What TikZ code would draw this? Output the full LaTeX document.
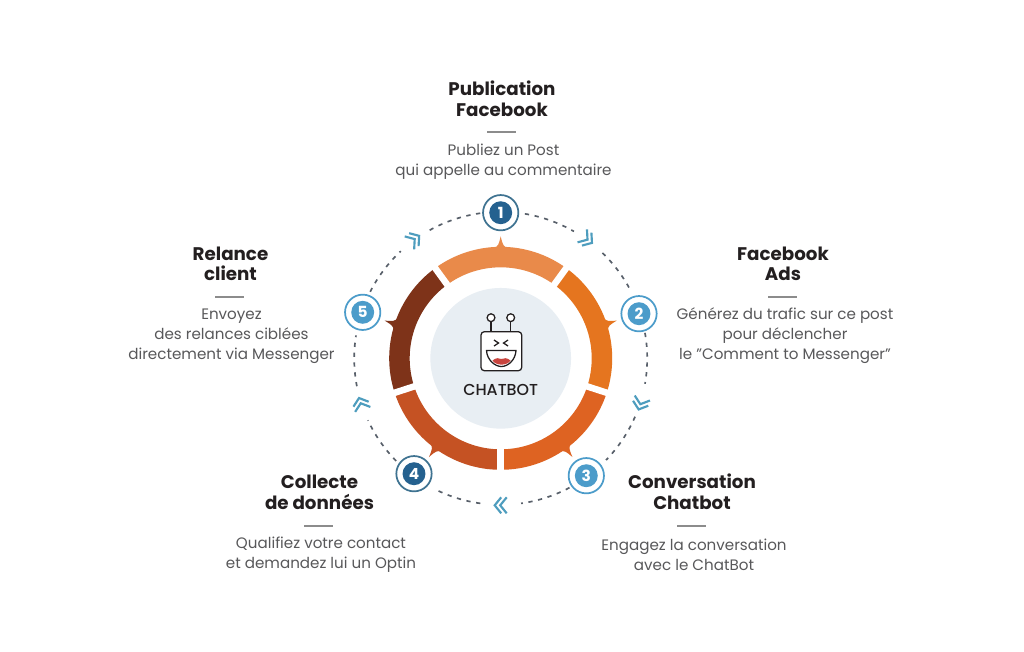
\documentclass[tikz,border=0pt]{standalone}
\usepackage{fontspec}
\setmainfont{Poppins}
\newfontfamily\midfont{Poppins Medium}
\usetikzlibrary{calc}
\definecolor{segA}{HTML}{E98A4A}
\definecolor{segB}{HTML}{E5751F}
\definecolor{segC}{HTML}{DE6322}
\definecolor{segD}{HTML}{C55223}
\definecolor{segE}{HTML}{7E3319}
\definecolor{bluedark}{HTML}{25618F}
\definecolor{bluelight}{HTML}{4C9CCA}
\definecolor{ringdark}{HTML}{3F7391}
\definecolor{chev}{HTML}{4E9DBE}
\definecolor{discbg}{HTML}{E8EEF3}
\definecolor{inktitle}{HTML}{231F20}
\definecolor{inkbody}{HTML}{58585A}
\definecolor{rulegray}{HTML}{8C8C8C}
\definecolor{dashgray}{HTML}{58606A}
\definecolor{lip}{HTML}{C9453F}
\tikzset{
  x=0.75pt,y=-0.75pt,
  titletext/.style={font=\fontsize{13.7}{15.4}\selectfont\bfseries,text=inktitle,align=center,inner sep=0},
  bodytext/.style={font=\fontsize{11.35}{15}\selectfont,text=inkbody,align=center,inner sep=0},
  rulebar/.style={draw=rulegray,line width=2.1pt},
  dasharc/.style={draw=dashgray,line width=1.25pt,dash pattern=on 3.2pt off 4.2pt},
  badgering/.style={circle,draw=#1,fill=white,line width=1.3pt,minimum size=26.5pt,inner sep=0},
  badgedot/.style={circle,fill=#1,minimum size=17.2pt,inner sep=0,text=white,font=\fontsize{11.5}{11.5}\selectfont\bfseries},
  chevline/.style={draw=chev,line width=1.6pt,line cap=butt,line join=miter},
  iconline/.style={draw=inktitle,line width=0.95pt},
}
\newcommand{\segm}[3]{% start end colour
  \fill[#3] ({500.7+111.5*sin(#1)},{358.3-111.5*cos(#1)})
    arc[start angle={90-#1},end angle={90-#2},x radius=111.5,y radius=-111.5]
    -- ({500.7+91*sin(#2)},{358.3-91*cos(#2)})
    arc[start angle={90-#2},end angle={90-#1},x radius=91,y radius=-91] -- cycle;
  \fill[#3] ({500.7+110*sin((#1+#2)/2-3.6)},{358.3-110*cos((#1+#2)/2-3.6)})
    .. controls ({500.7+113*sin((#1+#2)/2-1.1)},{358.3-113*cos((#1+#2)/2-1.1)}) .. ({500.7+122*sin((#1+#2)/2)},{358.3-122*cos((#1+#2)/2)})
    .. controls ({500.7+113*sin((#1+#2)/2+1.1)},{358.3-113*cos((#1+#2)/2+1.1)}) .. ({500.7+110*sin((#1+#2)/2+3.6)},{358.3-110*cos((#1+#2)/2+3.6)}) -- cycle;
}
\newcommand{\gapline}[1]{%
  \draw[white,line width=4.9pt] ({500.7+86*sin(#1)},{358.3-86*cos(#1)}) -- ({500.7+116*sin(#1)},{358.3-116*cos(#1)});
}
\newcommand{\dsh}[2]{%
  \draw[dasharc] ({500.7+146.5*sin(#1)},{358.3-146.5*cos(#1)})
    arc[start angle={90-#1},end angle={90-#2},x radius=146.5,y radius=-146.5];
}
\newcommand{\chv}[2]{% name, angle clockwise from top
  \coordinate (#1) at ({500.7+147*sin(#2)},{358.3-147*cos(#2)});
  \begin{scope}[shift={(#1)},rotate=-#2]
    \draw[chevline] (-6,-8) -- (0.5,0) -- (-6,8);
    \draw[chevline] (-0.5,-8) -- (6,0) -- (-0.5,8);
  \end{scope}
}
\newcommand{\blockitem}[9]{% name, tx, ty, title, rx, ry, bx, by, body
  \node[titletext,anchor=center] (#1t) at (#2,#3) {#4};
  \coordinate (#1l) at (#5-14.5,#6);
  \coordinate (#1r) at (#5+14.5,#6);
  \draw[rulebar] (#1l) -- (#1r);
  \node[bodytext,anchor=center] (#1b) at (#7,#8) {#9};
}
\begin{document}
\begin{tikzpicture}
\useasboundingbox (0,0) rectangle (1024,651);
\fill[white] (0,0) rectangle (1024,651);

% central disc
\node[circle,fill=discbg,minimum size=105.5pt,inner sep=0] (hub) at (500.7,358.3) {};

% ring
\segm{-36}{36}{segA}
\segm{36}{108}{segB}
\segm{108}{180}{segC}
\segm{180}{252}{segD}
\segm{252}{324}{segE}
\gapline{36}\gapline{108}\gapline{180}\gapline{252}\gapline{324}

% dashed orbit
\dsh{9.5}{30}\dsh{44}{63}\dsh{80}{100}\dsh{113.5}{134}\dsh{152}{172}
\dsh{188}{207}\dsh{225.5}{245}\dsh{259}{279}\dsh{297}{317}\dsh{331}{352}

% chevrons
\chv{ca}{36}\chv{cb}{108}\chv{cc}{180}\chv{cd}{252}\chv{ce}{324}

% badges
\node[badgering=ringdark] (b1) at (500.7,212.7) {};
\node[badgedot=bluedark] at (b1) {1};
\node[badgering=bluelight] (b2) at (639,313.7) {};
\node[badgedot=bluelight] at (b2) {2};
\node[badgering=bluelight] (b3) at (586.3,475.7) {};
\node[badgedot=bluelight] at (b3) {3};
\node[badgering=ringdark] (b4) at (414,473.7) {};
\node[badgedot=bluedark] at (b4) {4};
\node[badgering=bluelight] (b5) at (362.7,312.3) {};
\node[badgedot=bluelight] at (b5) {5};

% robot icon
\draw[iconline] (491,321.5) -- (491,331.7);
\draw[iconline] (510.7,321.5) -- (510.7,331.7);
\draw[iconline,fill=white] (491,317.7) circle[radius=3.9];
\draw[iconline,fill=white] (510.7,317.7) circle[radius=3.9];
\draw[iconline,fill=white,rounded corners=2.5pt] (481,331.7) rectangle (521.7,370.7);
\draw[iconline] (494,340) -- (498.5,343) -- (494,346);
\draw[iconline] (508,340) -- (503.5,343) -- (508,346);
\draw[iconline,fill=white] (486.5,350.5) -- (516,350.5) .. controls (515.5,360) and (508,366.5) .. (501.4,366.5) .. controls (495,366.5) and (487,360) .. (486.5,350.5) -- cycle;
\fill[lip] (492.5,360.5) .. controls (496,357.5) and (499,357.8) .. (501.4,359) .. controls (504,357.8) and (507,357.5) .. (510.5,360.5) .. controls (507,366) and (496,366) .. (492.5,360.5) -- cycle;
\node[font=\midfont\fontsize{11.9}{12}\selectfont,text=inktitle,inner sep=0] (botlabel) at (500.7,389.5) {CHATBOT};

% text blocks
\blockitem{p1}{502}{98.7}{Publication\\Facebook}{501.5}{132}{503.5}{162}{Publiez un Post\\qui appelle au commentaire}
\blockitem{p2}{783}{264}{Facebook\\Ads}{782.5}{297}{785}{336}{Générez du trafic sur ce post\\pour déclencher\\le "Comment to Messenger"}
\blockitem{p3}{692}{491.8}{Conversation\\Chatbot}{691.5}{526}{694}{555}{Engagez la conversation\\avec le ChatBot}
\blockitem{p4}{319.5}{492.3}{Collecte\\de données}{318.5}{526}{321}{555}{Qualifiez votre contact\\et demandez lui un Optin}
\blockitem{p5}{230.5}{264}{Relance\\client}{229.5}{297}{231.5}{336}{Envoyez\\des relances ciblées\\directement via Messenger}
\end{tikzpicture}
\end{document}
